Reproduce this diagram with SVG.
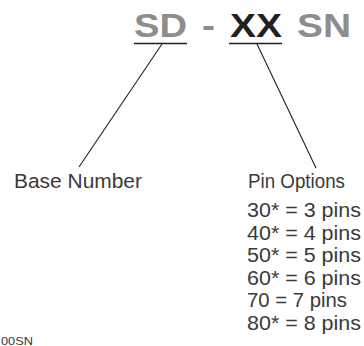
<svg xmlns="http://www.w3.org/2000/svg" width="364" height="346" viewBox="0 0 364 346">
  <style>
    .code { font-family: "Liberation Sans", Arial, sans-serif; font-weight: bold; font-size: 34px; }
    .gray { fill: #8d8d8b; }
    .dark { fill: #231f20; }
    .lbl { font-family: "Liberation Sans", Arial, sans-serif; font-size: 20.5px; fill: #3a3a3a; }
    .uline { stroke: #231f20; stroke-width: 1.5; fill: none; }
    .conn { stroke: #231f20; stroke-width: 1.1; fill: none; }
  </style>
  <rect width="364" height="346" fill="#ffffff"/>
  <g id="code">
    <text class="code gray" x="134" y="37" textLength="53" lengthAdjust="spacingAndGlyphs">SD</text>
    <text class="code gray" x="202" y="37" textLength="13" lengthAdjust="spacingAndGlyphs">-</text>
    <text class="code dark" x="230" y="37" textLength="52" lengthAdjust="spacingAndGlyphs">XX</text>
    <text class="code gray" x="297" y="37" textLength="54" lengthAdjust="spacingAndGlyphs">SN</text>
    <line class="uline" x1="134" y1="43.5" x2="187" y2="43.5"/>
    <line class="uline" x1="229" y1="43.5" x2="282" y2="43.5"/>
  </g>
  <g id="connectors">
    <line class="conn" x1="162" y1="44" x2="79" y2="167"/>
    <line class="conn" x1="257" y1="44" x2="316" y2="168"/>
  </g>
  <g id="base-number">
    <text class="lbl" x="14" y="188" textLength="128" lengthAdjust="spacingAndGlyphs">Base Number</text>
  </g>
  <g id="pin-options">
    <text class="lbl" x="248" y="188" textLength="97" lengthAdjust="spacingAndGlyphs">Pin Options</text>
    <text class="lbl" x="247" y="217" textLength="114" lengthAdjust="spacingAndGlyphs">30* = 3 pins</text>
    <text class="lbl" x="247" y="239.5" textLength="114" lengthAdjust="spacingAndGlyphs">40* = 4 pins</text>
    <text class="lbl" x="247" y="262" textLength="114" lengthAdjust="spacingAndGlyphs">50* = 5 pins</text>
    <text class="lbl" x="247" y="284.5" textLength="114" lengthAdjust="spacingAndGlyphs">60* = 6 pins</text>
    <text class="lbl" x="247" y="307" textLength="100" lengthAdjust="spacingAndGlyphs">70 = 7 pins</text>
    <text class="lbl" x="247" y="329.5" textLength="114" lengthAdjust="spacingAndGlyphs">80* = 8 pins</text>
  </g>
  <g id="footer">
    <text x="33" y="345" text-anchor="end" font-family="Liberation Sans, Arial, sans-serif" font-size="11.5" fill="#3a3a3a" textLength="32" lengthAdjust="spacingAndGlyphs">00SN</text>
  </g>
</svg>
